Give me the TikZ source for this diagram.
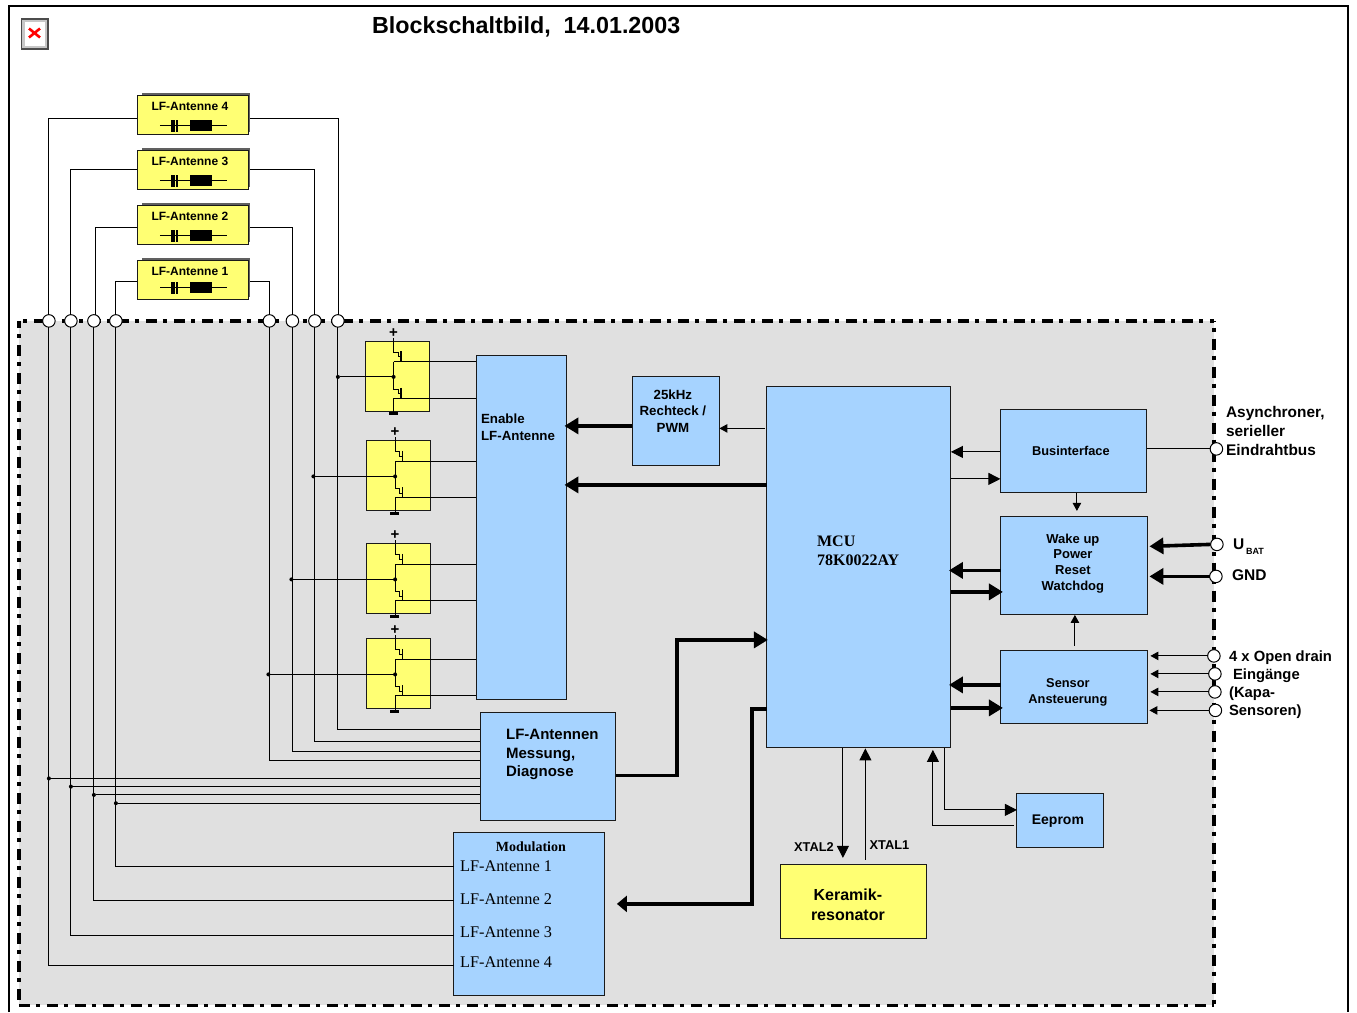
\documentclass[tikz,border=0pt]{standalone}
\usepackage{fontspec}
\setmainfont{Liberation Sans}
\newfontfamily\serifface{Liberation Serif}
\usetikzlibrary{arrows.meta,calc}
\definecolor{bluebox}{HTML}{A6D3FF}
\definecolor{yellowbox}{HTML}{FFFF73}
\definecolor{greyarea}{HTML}{E0E0E0}
\definecolor{edge}{HTML}{1A1A1A}
\newcommand\fsb[2]{\fontsize{#1}{#2}\selectfont\bfseries}
\newcommand\fsr[2]{\fontsize{#1}{#2}\selectfont\serifface}
\newcommand\fsrb[2]{\fontsize{#1}{#2}\selectfont\serifface\bfseries}
\tikzset{
  blockbox/.style={draw=edge,line width=1pt,rectangle,inner sep=0pt,outer sep=0pt,anchor=north west},
  bluefill/.style={blockbox,fill=bluebox},
  yellowfill/.style={blockbox,fill=yellowbox},
  wire/.style={draw=black,line width=0.95pt},
  thickwire/.style={draw=black,line width=3.6pt},
  bigarrow/.style={thickwire,-{Triangle[length=14pt,width=16pt]},shorten >=-2pt},
  portarrow/.style={thickwire,-{Triangle[length=14pt,width=16pt]},shorten >=2pt},
  midarrow/.style={wire,-{Triangle[length=12pt,width=12pt]}},
  smallarrow/.style={wire,-{Triangle[length=8pt,width=8.5pt]}},
  port/.style={circle,draw=black,fill=white,line width=1pt,minimum size=12.5pt,inner sep=0pt,outer sep=0pt},
  junction/.style={circle,fill=black,minimum size=4pt,inner sep=0pt,outer sep=0pt},
  ltext/.style={anchor=west,align=left,inner sep=0pt,text=black},
  ctext/.style={anchor=center,align=center,inner sep=0pt,text=black},
  border/.style={black,line width=3.4pt,dash pattern=on 11pt off 6pt on 4pt off 7pt}
}
\newcommand\bx[6]{\node[#6,minimum width={(#4-#2)*1pt},minimum height={(#5-#3)*1pt}] (#1) at (#2,#3) {};}
% antenna box: id, top, bottom, symbol y, dx, label y
\newcommand\antbox[6]{%
  \fill[gray!75!black] (137.5+4.5,#2-2.5) rectangle (250.5,#3-2.5);
  \bx{ant#1}{137.5}{#2}{248.5}{#3}{yellowfill}
  \node[ctext,font=\fsb{12}{14}] (antlabel#1) at (190,#6) {LF-Antenne #1};
  \coordinate (antsymL#1) at (160+#5,#4);
  \coordinate (antsymR#1) at (227+#5,#4);
  \draw[wire] (antsymL#1) -- (antsymR#1);
  \fill[black] (171+#5,#4-6) rectangle (174.7+#5,#4+6);
  \fill[black] (175.7+#5,#4-6) rectangle (178+#5,#4+6);
  \fill[black] (190+#5,#4-5.5) rectangle (212+#5,#4+5.5);
}
% switch block: id, left, top
\newcommand\sw[3]{%
  \bx{sw#1}{#2}{#3}{#2+64}{#3+70}{yellowfill}
  \node[ctext,font=\fsb{15}{15}] (plus#1) at (#2+28.2,#3-8.5) {+};
  \node[junction] (mid#1) at (#2+28.2,#3+35.5) {};
  \coordinate (top#1) at (#2+28.2,#3-3.5);
  \coordinate (bot#1) at (#2+28.2,#3+71);
  \coordinate (ga#1) at (#2+36.2,#3+20.5);
  \coordinate (gb#1) at (#2+36.2,#3+57);
  \draw[wire,line width=1.1pt] (top#1) -- ++(0,14.5) -- ++(4.5,0) -- ++(0,4.5) -- ++(3,0);
  \draw[wire,line width=1.7pt] (#2+35.7,#3+10) -- ++(0,11);
  \draw[wire,line width=1.1pt] (#2+28.2,#3+20.5) -- (ga#1);
  \draw[wire,line width=1.1pt] (#2+28.2,#3+20.5) -- ++(0,27.2) -- ++(4.5,0) -- ++(0,4.5) -- ++(3,0);
  \draw[wire,line width=1.7pt] (#2+35.7,#3+46.5) -- ++(0,11);
  \draw[wire,line width=1.1pt] (#2+28.2,#3+57) -- (gb#1);
  \draw[wire,line width=1.1pt] (#2+28.2,#3+57) -- (bot#1);
  \fill[black] (#2+23.5,#3+71) rectangle (#2+32.5,#3+74);
}
\begin{document}
\begin{tikzpicture}[x=1pt,y=-1pt]
\useasboundingbox (0.1,0.1) rectangle (1357.1,1012.1);
\fill[white] (0.1,0.1) rectangle (1357.1,1012.1);
% frame
\draw[draw=black,line width=2pt] (9.1,1012.1) -- (9.1,6.1) -- (1348.1,6.1) -- (1348.1,1012.1);
% grey area
\fill[greyarea] (19,321) rectangle (1214,1005);
\draw[border,dash phase=4pt] (19,321) -- (19,1005);
\draw[border] (19,1005.5) -- (1214,1005.5);
\draw[border,dash phase=13pt] (19,321) -- (1214,321);
\draw[border,dash phase=10.3pt] (1214,321) -- (1214,1005);
% broken image icon
\fill[black!70] (21.1,18.1) rectangle (49.1,50.1);
\fill[black!22] (22.6,19.6) rectangle (47.1,48.1);
\fill[white] (25.1,22.1) rectangle (44.6,45.6);
\draw[red,line width=2.6pt] (29.1,28.6) -- (40.1,37.6);
\draw[red,line width=2.6pt] (40.1,28.6) -- (29.1,37.6);
% title
\node[ltext,font=\fsb{23.3}{26}] (title) at (372,27) {Blockschaltbild,\ \ 14.01.2003};
% antennas
\antbox{4}{96}{135}{126}{0}{107}
\antbox{3}{151}{190}{181}{0}{161.5}
\antbox{2}{205.5}{245}{236}{0}{216.5}
\antbox{1}{260.5}{299.5}{288}{0.5}{271.5}
% blocks
\bx{en}{476.5}{356}{566.5}{699.5}{bluefill}
\bx{pwm}{632.5}{377}{719.5}{466}{bluefill}
\bx{mcu}{767}{387}{951}{748}{bluefill}
\bx{bus}{1000.5}{410}{1147}{493}{bluefill}
\bx{wake}{1001}{517}{1147.5}{615}{bluefill}
\bx{sens}{1001}{651}{1147.5}{724}{bluefill}
\bx{eep}{1017}{794}{1104}{848}{bluefill}
\bx{ker}{780.5}{865}{927}{939}{yellowfill}
\bx{mess}{480.5}{713}{616}{821}{bluefill}
\bx{mod}{454}{833}{605}{996}{bluefill}
% switches
\sw{1}{365.5}{341.5}
\sw{2}{367}{441}
\sw{3}{367}{544}
\sw{4}{367}{639}
% ports
\node[port] (pa) at (49,321) {};
\node[port] (pb) at (71,321) {};
\node[port] (pc) at (94,321) {};
\node[port] (pd) at (116,321) {};
\node[port] (pe) at (269.5,321) {};
\node[port] (pf) at (292.5,321) {};
\node[port] (pg) at (315,321) {};
\node[port] (ph) at (338,321) {};
\node[port] (pbus) at (1216.5,449) {};
\node[port] (pub) at (1217,544.5) {};
\node[port] (pgnd) at (1216,576.5) {};
\node[port] (po1) at (1214,656) {};
\node[port] (po2) at (1215,674) {};
\node[port] (po3) at (1215,692) {};
\node[port] (po4) at (1215.5,710.5) {};
% antenna wires
\draw[wire] (ant4.west |- 0,118.5) -| (pa.north);
\draw[wire] (ant3.west |- 0,170) -| (pb.north);
\draw[wire] (ant2.west |- 0,228) -| (95.5,315);
\draw[wire] (ant1.west |- 0,282) -| (pd.north);
\draw[wire] (250.5,118.5) -| (338.5,315);
\draw[wire] (250.5,170) -| (pg.north);
\draw[wire] (250.5,228) -| (pf.north);
\draw[wire] (250.5,282) -| (pe.north);
% modulation wires
\draw[wire] (pa.south) |- (mod.west |- 0,965.5);
\draw[wire] (pb.south) |- (mod.west |- 0,936);
\draw[wire] (pc.south) |- (mod.west |- 0,901);
\draw[wire] (pd.south) |- (mod.west |- 0,866.5);
% measurement wires
\draw[wire] (ph.south) |- (mess.west |- 0,730);
\draw[wire] (pg.south) |- (mess.west |- 0,742);
\draw[wire] (pf.south) |- (mess.west |- 0,752);
\draw[wire] (pe.south) |- (mess.west |- 0,761);
\node[junction] (ja) at (49,778.5) {};
\node[junction] (jb) at (71,786.7) {};
\node[junction] (jc) at (94,795) {};
\node[junction] (jd) at (116,803.3) {};
\draw[wire] (ja) -- (mess.west |- ja);
\draw[wire] (jb) -- (mess.west |- jb);
\draw[wire] (jc) -- (mess.west |- jc);
\draw[wire] (jd) -- (mess.west |- jd);
% switch feeds
\node[junction] (k1) at (338,377) {};
\node[junction] (k2) at (313.5,476.5) {};
\node[junction] (k3) at (291.5,579.5) {};
\node[junction] (k4) at (268.5,674.5) {};
\draw[wire] (k1) -- (mid1);
\draw[wire] (k2) -- (mid2);
\draw[wire] (k3) -- (mid3);
\draw[wire] (k4) -- (mid4);
\foreach \i in {1,2,3,4}{
  \draw[wire] (ga\i) -- (en.west |- ga\i);
  \draw[wire] (gb\i) -- (en.west |- gb\i);
}
% arrows, centre
\draw[bigarrow] (pwm.west |- 0,426) -- (en.east |- 0,426);
\draw[bigarrow] (mcu.west |- 0,485) -- (en.east |- 0,485);
\draw[smallarrow] (765,428.5) -- (pwm.east |- 0,428.5);
% bus
\draw[midarrow] (bus.west |- 0,452) -- (mcu.east |- 0,452);
\draw[midarrow] (mcu.east |- 0,479) -- (bus.west |- 0,479);
\draw[smallarrow] (bus.south -| 1077,0) -- (1077,511);
\draw[wire] (pbus.west) -- (bus.east |- pbus);
% wake
\draw[bigarrow] (wake.west |- 0,570.5) -- (mcu.east |- 0,570.5);
\draw[bigarrow] (mcu.east |- 0,592) -- (wake.west |- 0,592);
\draw[smallarrow] (1075,646) -- (1075,615);
\draw[portarrow] (pub.west) -- (wake.east |- 0,546.5);
\draw[portarrow] (pgnd.west) -- (wake.east |- pgnd);
% sensor
\draw[bigarrow] (sens.west |- 0,685) -- (mcu.east |- 0,685);
\draw[bigarrow] (mcu.east |- 0,708) -- (sens.west |- 0,708);
\draw[smallarrow] (po1.west) -- (1150.5,656);
\draw[smallarrow] (po2.west) -- (1150.5,674);
\draw[smallarrow] (po3.west) -- (1150.5,692);
\draw[smallarrow] (po4.west) -- (1149.5,710.5);
% MCU bottom
\draw[midarrow] (843,748) -- (843,858);
\draw[midarrow] (865.5,860) -- (865.5,748.5);
\draw[midarrow] (945,748) |- (eep.west |- 0,810);
\draw[midarrow] (1014,825.5) -| (933,750);
% thick routes
\draw[thickwire,-{Triangle[length=14pt,width=16pt]},shorten >=-1pt] (mess.east |- 0,775.5) -| (677,640) -- (mcu.west |- 0,640);
\draw[thickwire,-{Triangle[length=10pt,width=16pt]}] (mcu.west |- 0,709) -| (752,904) -- ($(mod.east |- 0,904)+(12,0)$);
% texts
\node[ltext,font=\fsb{13.3}{17}] (tEn) at (481,427) {Enable\\LF-Antenne};
\node[ctext,font=\fsb{13.3}{16.5}] (tPwm) at (673,411) {25kHz\\Rechteck /\\PWM};
\node[ltext,font=\fsrb{16}{19.5}] (tMcu) at (817,551) {MCU\\78K0022AY};
\node[ctext,font=\fsb{12.8}{15}] (tBus) at (1071,451) {Businterface};
\node[ctext,font=\fsb{13}{15.7}] (tWake) at (1073,563.5) {Wake up\\Power\\Reset\\Watchdog};
\node[ctext,font=\fsb{12.8}{16}] (tSens) at (1068,692.5) {Sensor\\Ansteuerung};
\node[ctext,font=\fsb{14}{16}] (tEep) at (1058,821) {Eeprom};
\node[ctext,font=\fsb{16}{19.5}] (tKer) at (848,905) {Keramik-\\resonator};
\node[ltext,font=\fsb{15}{18.5}] (tMess) at (506,755) {LF-Antennen\\Messung,\\Diagnose};
\node[ctext,font=\fsrb{14}{16}] (tMod) at (531,846.5) {Modulation};
\node[ltext,font=\fsr{16.3}{18}] (tm1) at (460,866) {LF-Antenne 1};
\node[ltext,font=\fsr{16.3}{18}] (tm2) at (460,899) {LF-Antenne 2};
\node[ltext,font=\fsr{16.3}{18}] (tm3) at (460,932) {LF-Antenne 3};
\node[ltext,font=\fsr{16.3}{18}] (tm4) at (460,962) {LF-Antenne 4};
\node[ltext,font=\fsb{12.8}{14}] (tx2) at (794,847.5) {XTAL2};
\node[ltext,font=\fsb{12.8}{14}] (tx1) at (869.5,845) {XTAL1};
\node[ltext,font=\fsb{15.4}{19}] (tAsy) at (1226,431) {Asynchroner,\\serieller\\Eindrahtbus};
\node[ltext,font=\fsb{15.5}{17}] (tU) at (1233,544) {U};
\node[ltext,font=\fsb{9}{10}] (tBat) at (1246,551.5) {BAT};
\node[ltext,font=\fsb{15.5}{17}] (tGnd) at (1232,575) {GND};
\node[ltext,font=\fsb{14.8}{18}] (to1) at (1229,657.5) {4 x Open drain};
\node[ltext,font=\fsb{14.8}{18}] (to2) at (1233,675.5) {Eingänge};
\node[ltext,font=\fsb{14.8}{18}] (to3) at (1229,693.5) {(Kapa-};
\node[ltext,font=\fsb{14.8}{18}] (to4) at (1229,711.5) {Sensoren)};
\end{tikzpicture}
\end{document}
